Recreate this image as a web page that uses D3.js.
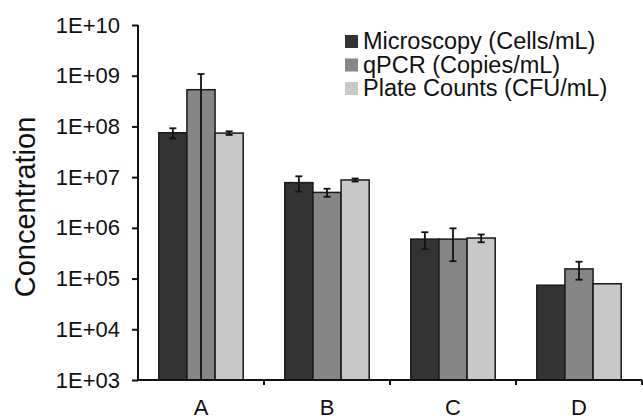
<!DOCTYPE html>
<html>
<head>
<meta charset="utf-8">
<script src="https://cdn.jsdelivr.net/npm/d3@7"></script>
<style>
  body { margin: 0; background: #fff; }
  text { font-family: "Liberation Sans", Arial, sans-serif; fill: #111; }
</style>
</head>
<body>
<div id="chart"></div>
<script>
var categories = ["A", "B", "C", "D"];
var seriesNames = ["Microscopy (Cells/mL)", "qPCR (Copies/mL)", "Plate Counts (CFU/mL)"];
var microscopy    = [7.5e7, 7.8e6, 6.0e5, 7.4e4];
var microscopyErr = [1.7e7, 2.6e6, 2.2e5, 0];
var qpcr          = [5.3e8, 5.0e6, 6.0e5, 1.55e5];
var qpcrErr       = [5.5e8, 0.9e6, 3.8e5, 6.0e4];
var plate         = [7.4e7, 8.8e6, 6.3e5, 7.9e4];
var plateErr      = [6.0e6, 0.6e6, 1.1e5, 0];
var yTicks = [1e3, 1e4, 1e5, 1e6, 1e7, 1e8, 1e9, 1e10];
var colors = ["#333333", "#868686", "#c8c8c8"];

function init(){
    var w = 643, h = 419;
    var left = 138, right = 642, top = 25, bottom = 380;

    var values = [microscopy, qpcr, plate];
    var errors = [microscopyErr, qpcrErr, plateErr];

    var svg = d3.select("#chart").append("svg")
        .attr("width", w)
        .attr("height", h);

    var x0 = d3.scaleBand().domain(categories)
        .range([left, right])
        .paddingInner(0.33)
        .paddingOuter(0.165);
    var x1 = d3.scaleBand().domain([0, 1, 2])
        .range([0, x0.bandwidth()]);
    var y = d3.scaleLog().domain([1e3, 1e10]).range([bottom, top]);

    // flatten into rows for the bars
    var rows = [];
    categories.forEach(function(c, i){
        values.forEach(function(s, j){
            rows.push({cat: c, k: j, v: s[i], e: errors[j][i]});
        });
    });

    var g = svg.append("g");

    g.selectAll("rect.bar")
        .data(rows)
        .enter()
        .append("rect")
        .attr("class", "bar")
        .attr("x", function(d){ return x0(d.cat) + x1(d.k); })
        .attr("y", function(d){ return y(d.v); })
        .attr("width", x1.bandwidth())
        .attr("height", function(d){ return bottom - y(d.v); })
        .attr("fill", function(d){ return colors[d.k]; })
        .attr("stroke", "#1a1a1a")
        .attr("stroke-width", 1.5);

    // error bars (lower end clamped to the axis when it goes below the domain)
    var errRows = rows.filter(function(d){ return d.e > 0; });
    function hi(d){ return y(d.v + d.e); }
    function lo(d){ return d.v - d.e > 1e3 ? y(d.v - d.e) : bottom; }
    function cx(d){ return x0(d.cat) + x1(d.k) + x1.bandwidth() / 2; }

    g.selectAll("line.err")
        .data(errRows)
        .enter()
        .append("line")
        .attr("x1", cx).attr("x2", cx)
        .attr("y1", hi).attr("y2", lo)
        .attr("stroke", "#111").attr("stroke-width", 1.8);

    g.selectAll("line.capTop")
        .data(errRows)
        .enter()
        .append("line")
        .attr("x1", function(d){ return cx(d) - 3.5; })
        .attr("x2", function(d){ return cx(d) + 3.5; })
        .attr("y1", hi).attr("y2", hi)
        .attr("stroke", "#111").attr("stroke-width", 1.8);

    g.selectAll("line.capBot")
        .data(errRows.filter(function(d){ return d.v - d.e > 1e3; }))
        .enter()
        .append("line")
        .attr("x1", function(d){ return cx(d) - 3.5; })
        .attr("x2", function(d){ return cx(d) + 3.5; })
        .attr("y1", lo).attr("y2", lo)
        .attr("stroke", "#111").attr("stroke-width", 1.8);

    // y axis
    var yAxis = d3.axisLeft(y)
        .tickValues(yTicks)
        .tickSize(6)
        .tickPadding(12)
        .tickFormat(function(d){
            var p = Math.round(Math.log10(d));
            return "1E+" + (p < 10 ? "0" + p : p);
        });
    var ya = svg.append("g")
        .attr("transform", "translate(" + left + ",0)")
        .call(yAxis);
    ya.select(".domain").attr("stroke", "#111").attr("stroke-width", 2)
        .attr("d", "M0," + top + "V" + bottom);
    ya.selectAll(".tick line").attr("stroke", "#111").attr("stroke-width", 2);
    ya.selectAll(".tick text")
        .style("font-family", "'Liberation Sans', Arial, sans-serif")
        .style("font-size", "22px")
        .attr("fill", "#111");

    // x axis: ticks at group boundaries, labels centered under groups
    var bounds = categories.map(function(c){ return x0(c) - x0.step() * x0.paddingInner() / 2; });
    bounds.push(right);
    svg.append("line")
        .attr("x1", left).attr("x2", right)
        .attr("y1", bottom).attr("y2", bottom)
        .attr("stroke", "#111").attr("stroke-width", 2);
    svg.selectAll("line.xtick")
        .data(bounds.slice(1))
        .enter()
        .append("line")
        .attr("x1", function(d){ return d; })
        .attr("x2", function(d){ return d; })
        .attr("y1", bottom).attr("y2", bottom + 5)
        .attr("stroke", "#111").attr("stroke-width", 2);
    svg.selectAll("text.xlab")
        .data(categories)
        .enter()
        .append("text")
        .attr("x", function(d){ return x0(d) + x0.bandwidth() / 2; })
        .attr("y", 415)
        .attr("text-anchor", "middle")
        .attr("font-size", 22)
        .text(function(d){ return d; });

    // axis title
    svg.append("text")
        .attr("transform", "translate(35,207) rotate(-90)")
        .attr("text-anchor", "middle")
        .attr("font-size", 29)
        .text("Concentration");

    // legend
    var leg = svg.append("g").attr("transform", "translate(345,35)");
    var item = leg.selectAll("g")
        .data(seriesNames)
        .enter()
        .append("g")
        .attr("transform", function(d, i){ return "translate(0," + (i * 23.5) + ")"; });
    item.append("rect")
        .attr("width", 13).attr("height", 13)
        .attr("fill", function(d, i){ return colors[i]; });
    item.append("text")
        .attr("x", 18)
        .attr("y", 14)
        .attr("font-size", 23.5)
        .text(function(d){ return d; });
}
window.onload = init;
</script>
</body>
</html>
